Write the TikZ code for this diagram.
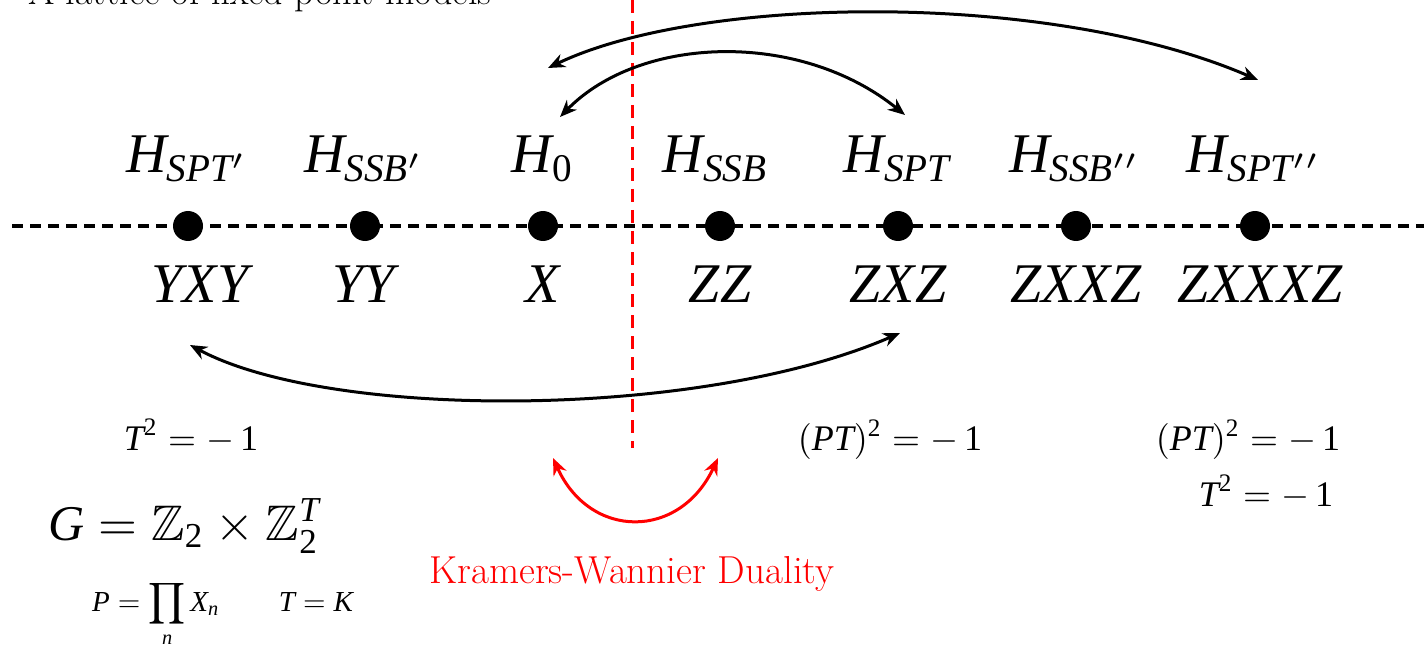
\documentclass[tikz,border=0pt]{standalone}
\usepackage{amsmath,amssymb}
\usepackage{fontspec}
\newfontfamily\tms{Liberation Serif}
\newcommand{\mi}[1]{\text{\tms\itshape #1}}
\newcommand{\mr}[1]{\text{\tms #1}}
\usetikzlibrary{arrows.meta}
\begin{document}
\begin{tikzpicture}[x=1pt,y=-1pt,
  dot/.style={circle,fill=black,inner sep=0pt,minimum size=30pt},
  biglab/.style={font=\normalsize,scale=5.6,inner sep=0pt,anchor=base},
  eq/.style={font=\normalsize,scale=3.6,inner sep=0pt,anchor=base},
  smalleq/.style={font=\normalsize,scale=2.9,inner sep=0pt,anchor=base},
  link/.style={line width=3pt,{Stealth[length=17pt,width=14pt]}-{Stealth[length=17pt,width=14pt]}},
  redlink/.style={red,line width=3pt,{Stealth[length=17pt,width=14pt]}-{Stealth[length=17pt,width=14pt]}},
  axis/.style={line width=4pt,dash pattern=on 11pt off 7pt},
  divider/.style={red,line width=3pt,dash pattern=on 13pt off 8pt},
  ]
\useasboundingbox (0,0) rectangle (1424,647);

% title (cut off at top)
\node[anchor=base west,inner sep=0pt,font=\fontsize{38}{44}\selectfont] (title) at (28,5) {A lattice of fixed-point models};

% axis
\coordinate (axL) at (12,226);
\coordinate (axR) at (1424,226);
\draw[axis] (axL) -- (axR);

% divider
\coordinate (dvT) at (632,0);
\coordinate (dvB) at (632,448);
\draw[divider] (dvT) -- (dvB);

% dots
\node[dot] (d1) at (188,226) {};
\node[dot] (d2) at (365,226) {};
\node[dot] (d3) at (543,226) {};
\node[dot] (d4) at (720,226) {};
\node[dot] (d5) at (898,226) {};
\node[dot] (d6) at (1076,226) {};
\node[dot] (d7) at (1255,226) {};

% Hamiltonian labels
\node[biglab] (h1) at (188,173) {$\mi{H}_{\mi{SPT}'}$};
\node[biglab] (h2) at (365,173) {$\mi{H}_{\mi{SSB}'}$};
\node[biglab] (h3) at (543,173) {$\mi{H}_{\mr{0}}$};
\node[biglab] (h4) at (716,173) {$\mi{H}_{\mi{SSB}}$};
\node[biglab] (h5) at (898,173) {$\mi{H}_{\mi{SPT}}$};
\node[biglab] (h6) at (1076,173) {$\mi{H}_{\mi{SSB}''}$};
\node[biglab] (h7) at (1255,173) {$\mi{H}_{\mi{SPT}''}$};

% operator labels
\node[biglab] (o1) at (200,302) {$\mi{YXY}$};
\node[biglab] (o2) at (364,302) {$\mi{YY}$};
\node[biglab] (o3) at (543,302) {$\mi{X}$};
\node[biglab] (o4) at (720,302) {$\mi{ZZ}$};
\node[biglab] (o5) at (898,302) {$\mi{ZXZ}$};
\node[biglab] (o6) at (1076,302) {$\mi{ZXXZ}$};
\node[biglab] (o7) at (1260,302) {$\mi{ZXXXZ}$};

% arrow end points
\coordinate (a1) at (548,68);
\coordinate (a2) at (1258,80);
\coordinate (a3) at (560,117);
\coordinate (a4) at (905,115);
\coordinate (a5) at (190,345);
\coordinate (a6) at (900,333);
\coordinate (a7) at (553,458);
\coordinate (a8) at (718,458);

\draw[link] (a1) .. controls (700,-5) and (1050,-10) .. (a2);
\draw[link] (a3) .. controls (640,35) and (800,30) .. (a4);
\draw[link] (a5) .. controls (330,420) and (700,420) .. (a6);
\draw[redlink] (a7) .. controls (590,540) and (680,540) .. (a8);

% equations
\node[eq] (t1) at (191,450) {$\mi{T}^{\mr{2}} = -\,\mr{1}$};
\node[eq] (pt1) at (890,450) {$(\mi{PT})^{\mr{2}} = -\,\mr{1}$};
\node[eq] (pt2) at (1248,450) {$(\mi{PT})^{\mr{2}} = -\,\mr{1}$};
\node[eq] (t2) at (1266,506) {$\mi{T}^{\mr{2}} = -\,\mr{1}$};

\node[inner sep=0pt,anchor=base,font=\normalsize,scale=5.0] (g) at (185,540) {$\mi{G} = \mathbb{Z}_{\mr{2}} \times \mathbb{Z}_{\mr{2}}^{\mi{T}}$};
\node[smalleq] (p) at (156,611) {$\displaystyle \mi{P} = \prod_{\mi{n}} \mi{X}_{\mi{n}}$};
\node[smalleq] (k) at (316,611) {$\mi{T} = \mi{K}$};

\node[inner sep=0pt,anchor=base,red,font=\fontsize{39}{44}\selectfont] (kw) at (632,583) {Kramers-Wannier Duality};
\end{tikzpicture}
\end{document}
